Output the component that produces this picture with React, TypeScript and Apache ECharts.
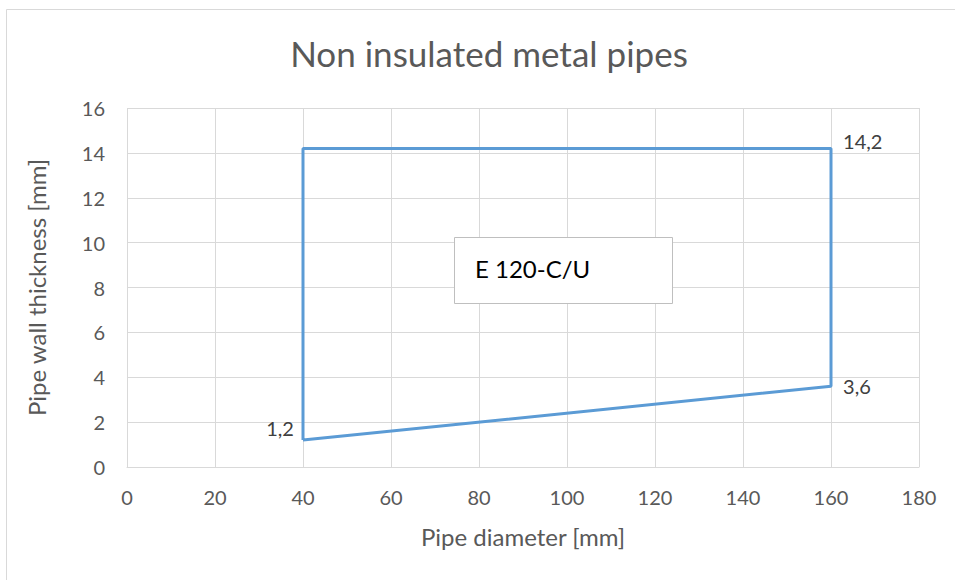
import React, { useEffect, useRef } from "react";
import * as echarts from "echarts";

const diameters = [40, 40, 160, 160, 40];
const thickness = [1.2, 14.2, 14.2, 3.6, 1.2];
const xTicks = [0, 20, 40, 60, 80, 100, 120, 140, 160, 180];
const yTicks = [0, 2, 4, 6, 8, 10, 12, 14, 16];
const titleText = "Non insulated metal pipes";
const xName = "Pipe diameter [mm]";
const yName = "Pipe wall thickness [mm]";
const boxText = "E 120-C/U";

const FONT = "Lato";
const GREY = "#595959";

export default function App() {
  const ref = useRef<HTMLDivElement>(null);
  useEffect(() => {
    if (!ref.current) return;
    const chart = echarts.init(ref.current, undefined, { renderer: "svg" });
    const fmt = (v: number) => String(v).replace(".", ",");
    const labelCfg = [
      { show: true, position: "left", offset: [0, -12], distance: 9 },
      { show: false },
      { show: true, position: "right", offset: [0, -7], distance: 12 },
      { show: true, position: "right", distance: 12 },
      { show: false },
    ];
    const data = diameters.map((d, i) => ({
      value: [d, thickness[i]],
      label: labelCfg[i],
    }));
    chart.setOption({
      animation: false,
      backgroundColor: "#ffffff",
      textStyle: { fontFamily: FONT },
      title: {
        text: titleText,
        left: 484,
        textAlign: "center",
        top: 30,
        textStyle: { fontFamily: FONT, fontSize: 35, fontWeight: "normal", color: GREY },
      },
      grid: { left: 127, right: 36, top: 108, bottom: 113, containLabel: false },
      xAxis: {
        type: "value",
        min: xTicks[0],
        max: xTicks[xTicks.length - 1],
        interval: 20,
        name: xName,
        nameLocation: "middle",
        nameGap: 57,
        nameTextStyle: { fontFamily: FONT, fontSize: 24, color: GREY },
        axisLine: { show: true, lineStyle: { color: "#d9d9d9", width: 1 } },
        axisTick: { show: false },
        axisLabel: { fontFamily: FONT, fontSize: 20, color: GREY, margin: 20 },
        splitLine: { show: true, lineStyle: { color: "#d9d9d9", width: 1 } },
      },
      yAxis: {
        type: "value",
        min: yTicks[0],
        max: yTicks[yTicks.length - 1],
        interval: 2,
        name: yName,
        nameLocation: "middle",
        nameGap: 79,
        nameTextStyle: { fontFamily: FONT, fontSize: 24, color: GREY },
        axisLine: { show: false },
        axisTick: { show: false },
        axisLabel: { fontFamily: FONT, fontSize: 20, color: GREY, margin: 22 },
        splitLine: { show: true, lineStyle: { color: "#d9d9d9", width: 1 } },
      },
      series: [
        {
          type: "line",
          data,
          symbol: "circle",
          symbolSize: 0.1,
          showSymbol: true,
          itemStyle: { color: "#5B9BD5" },
          lineStyle: { color: "#5B9BD5", width: 3 },
          label: {
            show: false,
            fontFamily: FONT,
            fontSize: 20,
            color: "#404040",
            formatter: (p: any) => fmt(p.value[1]),
          },
          z: 3,
        },
      ],
      graphic: [
        {
          type: "rect",
          shape: { x: 6.5, y: 9.5, width: 1000, height: 1000 },
          style: { fill: "none", stroke: "#d9d9d9", lineWidth: 1 },
          silent: true,
          z: 0,
        },
        {
          type: "rect",
          shape: { x: 454.5, y: 237.5, width: 218, height: 66 },
          style: { fill: "#ffffff", stroke: "#bfbfbf", lineWidth: 1 },
          z: 10,
        },
        {
          type: "text",
          x: 475,
          y: 268,
          style: {
            text: boxText,
            fontFamily: FONT,
            fontSize: 24,
            fill: "#000000",
            verticalAlign: "middle",
          },
          z: 11,
        },
      ],
    });
    return () => chart.dispose();
  }, []);
  return (
    <div
      ref={ref}
      style={{ position: "absolute", left: 0, top: 0, width: 955, height: 580 }}
    />
  );
}
